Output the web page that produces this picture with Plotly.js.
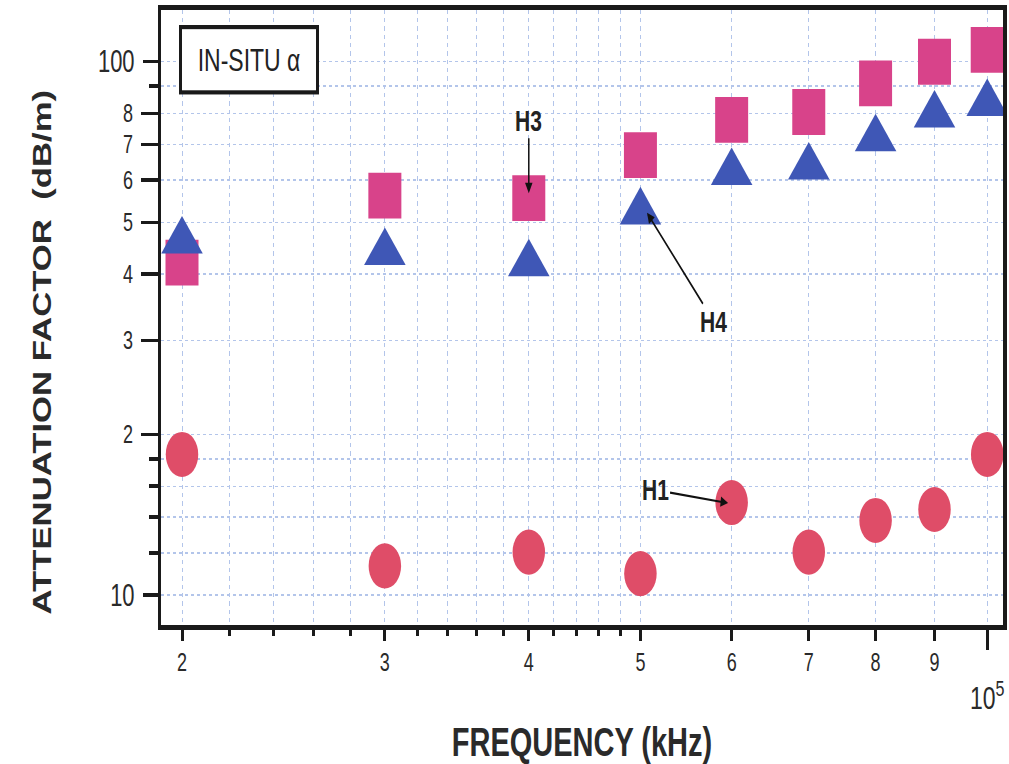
<!DOCTYPE html>
<html><head><meta charset="utf-8">
<script src="https://cdn.plot.ly/plotly-3.0.1.min.js"></script>
<style>
html,body{margin:0;padding:0;background:#fff;overflow:hidden;}
#wrap{width:1009px;height:764px;overflow:hidden;position:relative;background:#fff;}
#chart{width:1009px;height:550px;transform:scaleY(1.38909);transform-origin:0 0;}
</style></head><body>
<div id="wrap"><div id="chart"></div></div>
<script>
// ---- data ----
const frequency   = [20000, 30000, 40000, 50000, 60000, 70000, 80000, 90000, 100000];
const h3Squares   = [42.0, 56.1, 55.5, 66.8, 77.8, 80.5, 91.1, 100.0, 105.3];
const h4Triangles = [46.1, 43.9, 41.8, 52.3, 62.0, 63.5, 71.7, 79.5, 83.5];
const h1Circles   = [18.35, 11.34, 12.04, 10.97, 14.91, 12.04, 13.80, 14.47, 18.35];

const xTickVals  = [20000, 30000, 40000, 50000, 60000, 70000, 80000, 90000];
const xTickText  = ['2', '3', '4', '5', '6', '7', '8', '9'];
const xMinorVals = [22000, 24000, 26000, 28000, 32000, 34000, 36000, 38000, 42000, 44000, 46000, 48000];
const xDecadeVal = [100000];
const xDecadeText = ['10<sup>5</sup>'];

const yTickVals  = [20, 30, 40, 50, 60, 70, 80];
const yTickText  = ['2', '3', '4', '5', '6', '7', '8'];
const yDecadeVals = [10, 100];
const yDecadeText = ['10', '100'];
const yMinorVals = [12, 14, 16, 18, 90];

const boxLabel = 'IN-SITU \u03b1';
const xTitle = 'FREQUENCY (kHz)';
const yTitle = 'ATTENUATION FACTOR  (dB/m)';

// ---- styling ----
const FONT = 'Liberation Sans, Arial, sans-serif';
const NARROW = 'Liberation Sans Narrow, Arial Narrow, Liberation Sans, Arial, sans-serif';
const INK = '#1a1a1a';
const TXT = '#2a2a2a';
const GRID = '#b3c5ea';
const XR = [4.2828, 5.0137];
const YR = [0.94371, 2.09756];

const traces = [
  { x: frequency, y: h3Squares, type: 'scatter', mode: 'markers', name: 'H3',
    marker: { symbol: 'square', size: 33, color: '#d8438a' } },
  { x: frequency, y: h4Triangles, type: 'scatter', mode: 'markers', name: 'H4', yaxis: 'y2',
    marker: { symbol: 'triangle-up', size: 36, color: '#3f57b6' } },
  { x: frequency, y: h1Circles, type: 'scatter', mode: 'markers', name: 'H1', xaxis: 'x2',
    marker: { symbol: 'circle', size: 32.5, color: '#df4d68' } }
];

const gridCommon = { gridcolor: GRID, gridwidth: 1, griddash: '3px,3px' };

const layout = {
  width: 1009, height: 550,
  margin: { l: 161, r: 6, t: 7, b: 100 },
  paper_bgcolor: '#fff', plot_bgcolor: '#fff',
  showlegend: false,
  font: { family: FONT, color: INK },
  xaxis: Object.assign({
    type: 'log', range: XR, fixedrange: true,
    tickmode: 'array', tickvals: xTickVals, ticktext: xTickText,
    ticks: 'outside', ticklen: 8, tickwidth: 3, tickcolor: INK,
    tickfont: { size: 18, family: FONT, color: TXT },
    ticklabelstandoff: 0,
    showline: true, linewidth: 3.5, linecolor: INK, mirror: true,
    showgrid: true, zeroline: false,
    minor: Object.assign({ tickvals: xMinorVals, ticks: 'outside', ticklen: 4.5, tickwidth: 3, tickcolor: INK, showgrid: true }, gridCommon),
    title: { text: '<b>' + xTitle + '</b>', font: { family: NARROW, size: 29, color: TXT }, standoff: 47 }
  }, gridCommon),
  xaxis2: Object.assign({
    type: 'log', range: XR, overlaying: 'x', anchor: 'y', side: 'bottom', fixedrange: true,
    tickmode: 'array', tickvals: xDecadeVal, ticktext: xDecadeText,
    ticks: 'outside', ticklen: 17, tickwidth: 3, tickcolor: INK,
    tickfont: { size: 23, family: FONT, color: TXT },
    ticklabelstandoff: 15,
    showline: false, showgrid: true, zeroline: false
  }, gridCommon),
  yaxis: Object.assign({
    type: 'log', range: YR, fixedrange: true,
    tickmode: 'array', tickvals: yTickVals, ticktext: yTickText,
    ticks: 'outside', ticklen: 17, tickwidth: 2.5, tickcolor: INK,
    tickfont: { size: 18, family: FONT, color: TXT },
    ticklabelstandoff: 4,
    showline: true, linewidth: 3.5, linecolor: INK, mirror: true,
    showgrid: true, zeroline: false,
    minor: Object.assign({ tickvals: yMinorVals, ticks: 'outside', ticklen: 9, tickwidth: 2.5, tickcolor: INK, showgrid: true }, gridCommon)
  }, gridCommon),
  yaxis2: Object.assign({
    type: 'log', range: YR, overlaying: 'y', anchor: 'x', side: 'left', fixedrange: true,
    tickmode: 'array', tickvals: yDecadeVals, ticktext: yDecadeText,
    ticks: 'outside', ticklen: 17, tickwidth: 2.5, tickcolor: INK,
    tickfont: { size: 22, family: FONT, color: TXT },
    ticklabelstandoff: 4,
    showline: false, showgrid: true, zeroline: false
  }, gridCommon),
  annotations: [
    { xref: 'paper', yref: 'paper', x: -0.1413, y: 0.4438, xanchor: 'center', yanchor: 'middle',
      text: '<b>' + yTitle + '</b>', textangle: -90, showarrow: false,
      font: { family: NARROW, size: 25, color: TXT } },
    { xref: 'paper', yref: 'paper', x: 0.104, y: 0.9187, xanchor: 'center', yanchor: 'middle',
      text: boxLabel, showarrow: false, font: { family: FONT, size: 23, color: '#222' },
      bordercolor: INK, borderwidth: 3, borderpad: 4, width: 126, height: 36, bgcolor: '#fff' },
    { x: Math.log10(40000), y: Math.log10(56.7), xref: 'x', yref: 'y', text: '<b>H3</b>',
      font: { family: FONT, size: 21, color: '#222' }, showarrow: true, arrowhead: 2, arrowsize: 1, arrowwidth: 1.5,
      arrowcolor: '#111', ax: 0, ay: -52.5, standoff: 0 },
    { x: Math.log10(50660), y: Math.log10(52.1), xref: 'x', yref: 'y', text: '<b>H4</b>',
      font: { family: FONT, size: 21, color: '#222' }, showarrow: true, arrowhead: 2, arrowsize: 1, arrowwidth: 1.5,
      arrowcolor: '#111', ax: 67, ay: 78.5, standoff: 0 },
    { x: Math.log10(59570), y: Math.log10(14.88), xref: 'x', yref: 'y', text: '<b>H1</b>',
      font: { family: FONT, size: 21, color: '#222' }, showarrow: true, arrowhead: 2, arrowsize: 1, arrowwidth: 1.5,
      arrowcolor: '#111', ax: -73, ay: -9.4, standoff: 0 }
  ]
};

Plotly.newPlot('chart', traces, layout, { displayModeBar: false, staticPlot: true });
</script>
</body></html>
